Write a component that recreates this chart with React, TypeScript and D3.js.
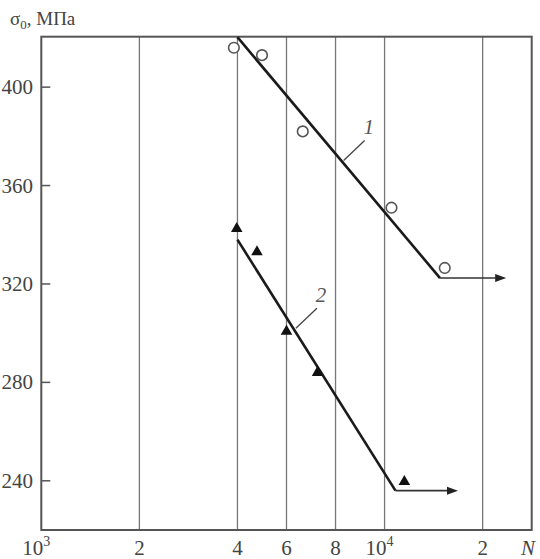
import React from "react";
import * as d3 from "d3";

// ---- data ----
const xBreaks = [1000, 2000, 4000, 6000, 8000, 10000, 20000, 28000];
const xBreakFractions = [0, 0.2, 0.4, 0.5, 0.6, 0.7, 0.9, 1];
const xTickValues = [1000, 2000, 4000, 6000, 8000, 10000, 20000];
const xTickBase = ["10", "2", "4", "6", "8", "10", "2"];
const xTickSup = ["3", "", "", "", "", "4", ""];
const yTickValues = [240, 280, 320, 360, 400];
const yDomain = [220, 420.5];

const s1PointsN = [3900, 4900, 6600, 10500, 15300];
const s1PointsS = [416, 413, 382, 351, 326.5];
const s1LineN = [4000, 14800];
const s1LineS = [420.3, 322.4];
const s1ArrowEndN = 23500;
const s1LabelAnchor = [8300, 370.2];

const s2PointsN = [3980, 4700, 6000, 7200, 11500];
const s2PointsS = [342.5, 333, 300.7, 284, 239.6];
const s2LineN = [4000, 10800];
const s2LineS = [338, 236];
const s2ArrowEndN = 16800;
const s2LabelAnchor = [6340, 302];

const seriesLabels = ["1", "2"];

// ---- layout ----
const W = 540, H = 559;
const L = 41.3, R = 531.7, T = 36.7, B = 530;
const FONT = "'Liberation Serif', 'DejaVu Serif', serif";

export default function App() {
  const x = d3
    .scaleLog()
    .domain(xBreaks)
    .range(xBreakFractions.map((f) => L + f * (R - L)));
  const y = d3.scaleLinear().domain(yDomain).range([B, T]);
  const tri = d3.symbol().type(d3.symbolTriangle).size(58)()!;

  const arrow = (n0: number, n1: number, s: number, key: string) => {
    const x0 = x(n0), x1 = x(n1), yy = y(s);
    return (
      <g key={key}>
        <line x1={x0} x2={x1 - 8} y1={yy} y2={yy} stroke="#333" strokeWidth={1.6} />
        <path d={`M${x1},${yy} L${x1 - 11},${yy - 4} L${x1 - 11},${yy + 4} Z`} fill="#222" />
      </g>
    );
  };

  const label = (anchor: number[], text: string, key: string) => {
    const ax = x(anchor[0]), ay = y(anchor[1]);
    return (
      <g key={key}>
        <line x1={ax} y1={ay} x2={ax + 21} y2={ay - 20} stroke="#444" strokeWidth={1.3} />
        <text x={ax + 25} y={ay - 26} fontFamily={FONT} fontStyle="italic" fontSize={21} fill="#555" textAnchor="middle">
          {text}
        </text>
      </g>
    );
  };

  return (
    <svg width={W} height={H} style={{ position: "absolute", left: 0, top: 0, background: "#fff" }}>
      {/* grid */}
      {xTickValues.slice(1).map((v) => (
        <line key={"g" + v} x1={x(v)} x2={x(v)} y1={T} y2={B} stroke="#777" strokeWidth={1.3} />
      ))}
      {/* y ticks */}
      {yTickValues.map((v) => (
        <g key={"y" + v}>
          <line x1={L} x2={L + 9} y1={y(v)} y2={y(v)} stroke="#555" strokeWidth={1.5} />
          <text x={33} y={y(v) + 7} textAnchor="end" fontFamily={FONT} fontSize={21} fill="#444">
            {v}
          </text>
        </g>
      ))}
      {/* x tick labels */}
      {xTickValues.map((v, i) => (
        <text key={"x" + v} x={x(v) + (xTickSup[i] ? -5 : 0)} y={555} textAnchor="middle" fontFamily={FONT} fontSize={21} fill="#444">
          {xTickBase[i]}
          {xTickSup[i] ? (
            <tspan dy={-9} fontSize={14}>
              {xTickSup[i]}
            </tspan>
          ) : null}
        </text>
      ))}
      <text x={521} y={555} fontFamily={FONT} fontStyle="italic" fontSize={21} fill="#444">
        N
      </text>
      {/* frame */}
      <rect x={L} y={T} width={R - L} height={B - T} fill="none" stroke="#555" strokeWidth={2} />
      {/* y axis title */}
      <text x={10} y={25} fontFamily={FONT} fontSize={19} fill="#444">
        σ<tspan dy={4} fontSize={13}>0</tspan>
        <tspan dy={-4}>, МПа</tspan>
      </text>

      {/* series 1 */}
      <line x1={x(s1LineN[0])} y1={y(s1LineS[0])} x2={x(s1LineN[1])} y2={y(s1LineS[1])} stroke="#1a1a1a" strokeWidth={2.6} />
      {arrow(s1LineN[1], s1ArrowEndN, s1LineS[1], "a1")}
      {s1PointsN.map((n, i) => (
        <circle key={"c" + i} cx={x(n)} cy={y(s1PointsS[i])} r={5.3} fill="#fff" stroke="#555" strokeWidth={1.6} />
      ))}
      {label(s1LabelAnchor, seriesLabels[0], "l1")}

      {/* series 2 */}
      <line x1={x(s2LineN[0])} y1={y(s2LineS[0])} x2={x(s2LineN[1])} y2={y(s2LineS[1])} stroke="#1a1a1a" strokeWidth={2.6} />
      {arrow(s2LineN[1], s2ArrowEndN, s2LineS[1], "a2")}
      {s2PointsN.map((n, i) => (
        <path key={"t" + i} d={tri} transform={`translate(${x(n)},${y(s2PointsS[i])})`} fill="#111" />
      ))}
      {label(s2LabelAnchor, seriesLabels[1], "l2")}
    </svg>
  );
}
